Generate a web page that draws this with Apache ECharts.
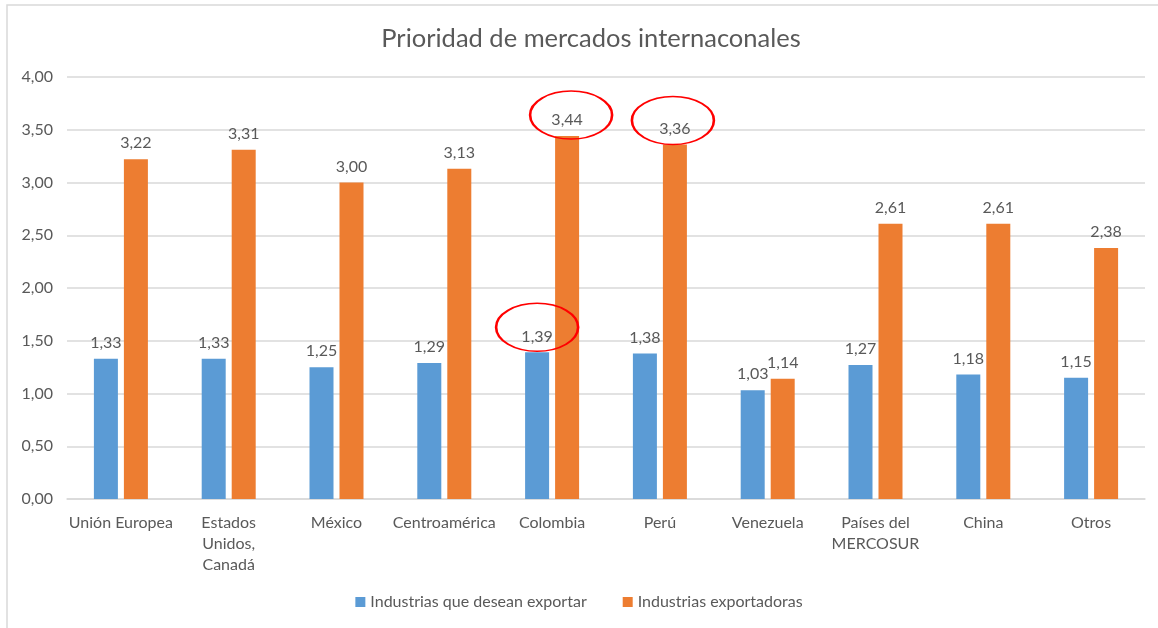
<!doctype html>
<html>
    <head>
        <meta charset="utf-8">
        <title>Prioridad de mercados internaconales</title>
        <style>
            html, body { margin: 0; padding: 0; background: #fff; }
            #main { width: 1158px; height: 628px; }
        </style>
    </head>
    <body>
        <div id="main"></div>
        <script src="https://cdn.jsdelivr.net/npm/echarts@6/dist/echarts.min.js"></script>
        <script>
            var categories = ['Unión Europea', 'Estados\nUnidos,\nCanadá', 'México', 'Centroamérica', 'Colombia',
                'Perú', 'Venezuela', 'Países del\nMERCOSUR', 'China', 'Otros'];
            var deseanExportar = [1.33, 1.33, 1.25, 1.29, 1.39, 1.38, 1.03, 1.27, 1.18, 1.15];
            var exportadoras = [3.22, 3.31, 3.00, 3.13, 3.44, 3.36, 1.14, 2.61, 2.61, 2.38];
            var seriesNames = ['Industrias que desean exportar', 'Industrias exportadoras'];
            var yTicks = { min: 0, max: 4, interval: 0.5 };

            var font = 'Lato, "Open Sans", sans-serif';
            var grey = '#595959';

            function comma(v) {
                return v.toFixed(2).replace('.', ',');
            }

            // red rings drawn round a few labels
            var ring = {
                symbol: 'circle',
                symbolSize: [82, 48],
                itemStyle: { color: 'rgba(0,0,0,0)', borderColor: '#FF0000', borderWidth: 2 },
                label: { show: false }
            };

            var chart = echarts.init(document.getElementById('main'));

            chart.setOption({
                backgroundColor: '#fff',
                animation: false,
                textStyle: { fontFamily: font },
                graphic: [{
                    type: 'rect',
                    shape: { x: 7, y: 5, width: 1300, height: 800 },
                    style: { fill: 'none', stroke: '#D9D9D9', lineWidth: 1.5 },
                    silent: true
                }],
                title: {
                    text: 'Prioridad de mercados internaconales',
                    left: 586,
                    textAlign: 'center',
                    top: 21,
                    textStyle: { fontFamily: font, fontSize: 25.5, fontWeight: 'normal', color: grey }
                },
                legend: {
                    bottom: 13,
                    left: 'center',
                    itemWidth: 10,
                    itemHeight: 10,
                    itemGap: 36,
                    icon: 'rect',
                    textStyle: { fontFamily: font, fontSize: 16, color: grey },
                    data: seriesNames
                },
                grid: { left: 67, right: 13, top: 77, bottom: 129 },
                xAxis: {
                    type: 'category',
                    data: categories,
                    axisLine: { lineStyle: { color: '#D9D9D9', width: 1.5 } },
                    axisTick: { show: false },
                    axisLabel: { color: grey, fontSize: 16, lineHeight: 21, margin: 13, interval: 0, fontFamily: font }
                },
                yAxis: {
                    type: 'value',
                    min: yTicks.min,
                    max: yTicks.max,
                    interval: yTicks.interval,
                    axisLine: { show: false },
                    axisTick: { show: false },
                    splitLine: { lineStyle: { color: '#D9D9D9', width: 1.5 } },
                    axisLabel: { color: grey, fontSize: 16, margin: 14, fontFamily: font, formatter: comma }
                },
                series: [{
                    name: seriesNames[0],
                    type: 'bar',
                    data: deseanExportar,
                    barWidth: 24,
                    barGap: '25%',
                    itemStyle: { color: '#5B9BD5' },
                    label: { show: true, position: 'top', distance: 8, color: grey, fontSize: 16, fontFamily: font,
                        formatter: function (p) { return comma(p.value); } },
                    markPoint: Object.assign({ silent: true, data: [
                        { coord: [4, deseanExportar[4]], symbolOffset: [0, -25] }
                    ] }, ring)
                }, {
                    name: seriesNames[1],
                    type: 'bar',
                    data: exportadoras,
                    barWidth: 24,
                    barGap: '25%',
                    itemStyle: { color: '#ED7D31' },
                    label: { show: true, position: 'top', distance: 8, color: grey, fontSize: 16, fontFamily: font,
                        formatter: function (p) { return comma(p.value); } },
                    markPoint: Object.assign({ silent: true, data: [
                        { coord: [4, exportadoras[4]], symbolOffset: [4, -21] },
                        { coord: [5, exportadoras[5]], symbolOffset: [-2, -24] }
                    ] }, ring)
                }]
            });

            window.onresize = chart.resize;
        </script>
    </body>
</html>
